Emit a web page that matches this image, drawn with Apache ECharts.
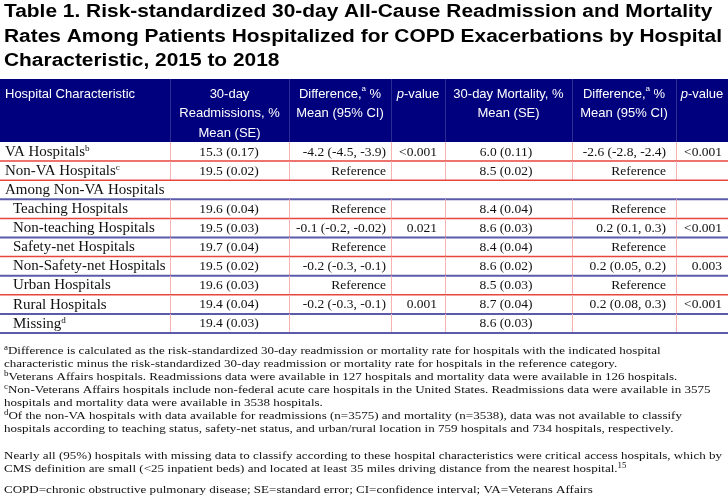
<!DOCTYPE html>
<html><head><meta charset="utf-8">
<script src="https://cdn.jsdelivr.net/npm/echarts@6/dist/echarts.min.js"></script>
<style>html,body{margin:0;padding:0;background:#fff}#c{width:728px;height:497px}</style>
</head><body><div id="c"></div>
<script>
// ---------- DATA ----------
const titleLines = [
  'Table 1. Risk-standardized 30-day All-Cause Readmission and Mortality',
  'Rates Among Patients Hospitalized for COPD Exacerbations by Hospital',
  'Characteristic, 2015 to 2018'
];
const headerText = [
  ['Hospital Characteristic'],
  ['30-day', 'Readmissions, %', 'Mean (SE)'],
  ['{h|Difference,}{s|a}{h| %}', '{h|Mean (95% CI)}'],
  ['{i|p}{h|-value}'],
  ['30-day Mortality, %', 'Mean (SE)'],
  ['{h|Difference,}{s|a}{h| %}', '{h|Mean (95% CI)}'],
  ['{i|p}{h|-value}']
];
const rowLabels = ['VA Hospitals', 'Non-VA Hospitals', 'Among Non-VA Hospitals', 'Teaching Hospitals',
  'Non-teaching Hospitals', 'Safety-net Hospitals', 'Non-Safety-net Hospitals', 'Urban Hospitals',
  'Rural Hospitals', 'Missing'];
const rowSup = ['b', 'c', '', '', '', '', '', '', '', 'd'];
const rowIndent = [0, 0, 0, 1, 1, 1, 1, 1, 1, 1];
const readmit = ['15.3 (0.17)', '19.5 (0.02)', '', '19.6 (0.04)', '19.5 (0.03)', '19.7 (0.04)', '19.5 (0.02)', '19.6 (0.03)', '19.4 (0.04)', '19.4 (0.03)'];
const readmitDiff = ['-4.2 (-4.5, -3.9)', 'Reference', '', 'Reference', '-0.1 (-0.2, -0.02)', 'Reference', '-0.2 (-0.3, -0.1)', 'Reference', '-0.2 (-0.3, -0.1)', ''];
const readmitP = ['<0.001', '', '', '', '0.021', '', '', '', '0.001', ''];
const mort = ['6.0 (0.11)', '8.5 (0.02)', '', '8.4 (0.04)', '8.6 (0.03)', '8.4 (0.04)', '8.6 (0.02)', '8.5 (0.03)', '8.7 (0.04)', '8.6 (0.03)'];
const mortDiff = ['-2.6 (-2.8, -2.4)', 'Reference', '', 'Reference', '0.2 (0.1, 0.3)', 'Reference', '0.2 (0.05, 0.2)', 'Reference', '0.2 (0.08, 0.3)', ''];
const mortP = ['<0.001', '', '', '', '<0.001', '', '0.003', '', '<0.001', ''];
const footSup = ['a', '', 'b', 'c', '', 'd', '', '', '', ''];
const footText = [
  'Difference is calculated as the risk-standardized 30-day readmission or mortality rate for hospitals with the indicated hospital',
  'characteristic minus the risk-standardized 30-day readmission or mortality rate for hospitals in the reference category.',
  'Veterans Affairs hospitals. Readmissions data were available in 127 hospitals and mortality data were available in 126 hospitals.',
  'Non-Veterans Affairs hospitals include non-federal acute care hospitals in the United States. Readmissions data were available in 3575',
  'hospitals and mortality data were available in 3538 hospitals.',
  'Of the non-VA hospitals with data available for readmissions (n=3575) and mortality (n=3538), data was not available to classify',
  'hospitals according to teaching status, safety-net status, and urban/rural location in 759 hospitals and 734 hospitals, respectively.',
  'Nearly all (95%) hospitals with missing data to classify according to these hospital characteristics were critical access hospitals, which by',
  'CMS definition are small (<25 inpatient beds) and located at least 35 miles driving distance from the nearest hospital.',
  'COPD=chronic obstructive pulmonary disease; SE=standard error; CI=confidence interval; VA=Veterans Affairs'
];
const footEndSup = ['', '', '', '', '', '', '', '', '15', ''];

// ---------- LAYOUT / STYLE ----------
const W = 728;
const colBounds = [170, 289, 391, 445, 572, 676];
const headerCenters = [null, 229.5, 340, 418, 508.5, 624, 702];
const rowLine = ['red', 'red', 'blue', 'red', 'blue', 'red', 'blue', 'red', 'blue', 'blue'];
const noVLines = [false, false, true, false, false, false, false, false, false, false];
const footY = [351, 364.5, 377.5, 390.5, 403.5, 416.5, 429.5, 456, 469.5, 490];
const navy = '#00007f';
const bodyFont = '"Liberation Serif", serif';
const sansFont = '"Liberation Sans", Arial, sans-serif';

const mctx = document.createElement('canvas').getContext('2d');
function textW(str, font) { mctx.font = font; return mctx.measureText(str).width; }
const titleScale = 718 / textW(titleLines[1], 'bold 18px "Liberation Sans"');
const footScale = 718 / textW(footText[7], '11px "Liberation Serif"');
const labelScale = 1.07;

const graphics = [];
titleLines.forEach((t, k) => {
  graphics.push({
    type: 'text', x: 4, y: 12.5 + k * 24.5, scaleX: titleScale, originX: 0, originY: 0,
    style: { text: t, fontSize: 18, fontWeight: 'bold', fontFamily: sansFont, fill: '#000', verticalAlign: 'middle', align: 'left' }
  });
});
graphics.push({ type: 'rect', shape: { x: 0, y: 79, width: W, height: 63 }, style: { fill: navy } });
colBounds.forEach(b => graphics.push({ type: 'line', shape: { x1: b + 0.5, y1: 79, x2: b + 0.5, y2: 142 }, style: { stroke: '#2d2d96', lineWidth: 1 } }));
headerText.forEach((lines, k) => {
  graphics.push({
    type: 'text', x: k === 0 ? 5 : headerCenters[k], y: 84.5,
    style: {
      text: lines.join('\n'), fontSize: 13, fontFamily: sansFont, fill: '#fff', lineHeight: 19.5,
      align: k === 0 ? 'left' : 'center', verticalAlign: 'top',
      rich: {
        h: { fontSize: 13, fontFamily: sansFont, fill: '#fff', lineHeight: 19.5 },
        i: { fontSize: 13, fontFamily: sansFont, fill: '#fff', fontStyle: 'italic', lineHeight: 19.5 },
        s: { fontSize: 8, fontFamily: sansFont, fill: '#fff', lineHeight: 13, verticalAlign: 'top' }
      }
    }
  });
});
footText.forEach((t, k) => {
  let txt = (footSup[k] ? '{s|' + footSup[k] + '}' : '') + '{t|' + t + '}' + (footEndSup[k] ? '{s|' + footEndSup[k] + '}' : '');
  graphics.push({
    type: 'text', x: 4, y: footY[k], scaleX: footScale, originX: 0, originY: 0,
    style: {
      text: txt, align: 'left', verticalAlign: 'middle', fill: '#111',
      rich: {
        t: { fontSize: 11, fontFamily: bodyFont, fill: '#111', lineHeight: 14 },
        s: { fontSize: 7.5, fontFamily: bodyFont, fill: '#111', lineHeight: 9, verticalAlign: 'top' }
      }
    }
  });
});

function renderItem(params, api) {
  const i = api.value(0);
  const yMid = api.coord([0, i])[1];
  const h = api.size([0, 1])[1];
  const top = yMid - h / 2, bot = yMid + h / 2;
  const X = v => api.coord([v, i])[0];
  const ch = [];
  if (!noVLines[i]) {
    colBounds.forEach(b => ch.push({ type: 'line', shape: { x1: X(b) + 0.5, y1: top, x2: X(b) + 0.5, y2: bot }, style: { stroke: '#f6b3b0', lineWidth: 1 } }));
  }
  const isBlue = rowLine[i] === 'blue';
  ch.push({ type: 'line', shape: { x1: X(0), y1: bot, x2: X(W), y2: bot }, style: { stroke: isBlue ? '#5b5bab' : '#e8453c', lineWidth: isBlue ? 2 : 1.5 } });
  const base = { fontSize: 13.5, fontFamily: bodyFont, fill: '#111', verticalAlign: 'middle' };
  const label = '{n|' + rowLabels[i] + '}' + (rowSup[i] ? '{s|' + rowSup[i] + '}' : '');
  const lx = X(rowIndent[i] ? 13 : 5);
  ch.push({ type: 'text', x: lx, y: yMid + 0.5, scaleX: labelScale, originX: 0, originY: 0,
    style: Object.assign({}, base, {
      x: 0, y: 0, text: label, align: 'left',
      rich: { n: { fontSize: 14, fontFamily: bodyFont, fill: '#111', lineHeight: 16 }, s: { fontSize: 8.5, fontFamily: bodyFont, fill: '#111', lineHeight: 9, verticalAlign: 'top' } }
    }) });
  const cells = [
    [readmit[i], 229, 'center'], [readmitDiff[i], 386, 'right'], [readmitP[i], 437, 'right'],
    [mort[i], 506, 'center'], [mortDiff[i], 666, 'right'], [mortP[i], 722, 'right']
  ];
  cells.forEach(c => { if (c[0]) ch.push({ type: 'text', style: Object.assign({}, base, { x: X(c[1]), y: yMid + 0.5, text: c[0], align: c[2] }) }); });
  return { type: 'group', children: ch };
}

const chart = echarts.init(document.getElementById('c'), null, { renderer: 'canvas' });
chart.setOption({
  animation: false,
  backgroundColor: '#fff',
  grid: { left: 0, right: 0, top: 142, bottom: 164 },
  xAxis: { type: 'value', min: 0, max: W, show: false },
  yAxis: { type: 'category', data: rowLabels, inverse: true, show: false },
  graphic: graphics,
  series: [{
    type: 'custom', coordinateSystem: 'cartesian2d', clip: false,
    data: rowLabels.map((_, i) => [0, i]), encode: { x: 0, y: 1 },
    renderItem: (p, api) => renderItem(p, { value: k => api.value(1), coord: api.coord, size: api.size })
  }]
});
</script></body></html>
